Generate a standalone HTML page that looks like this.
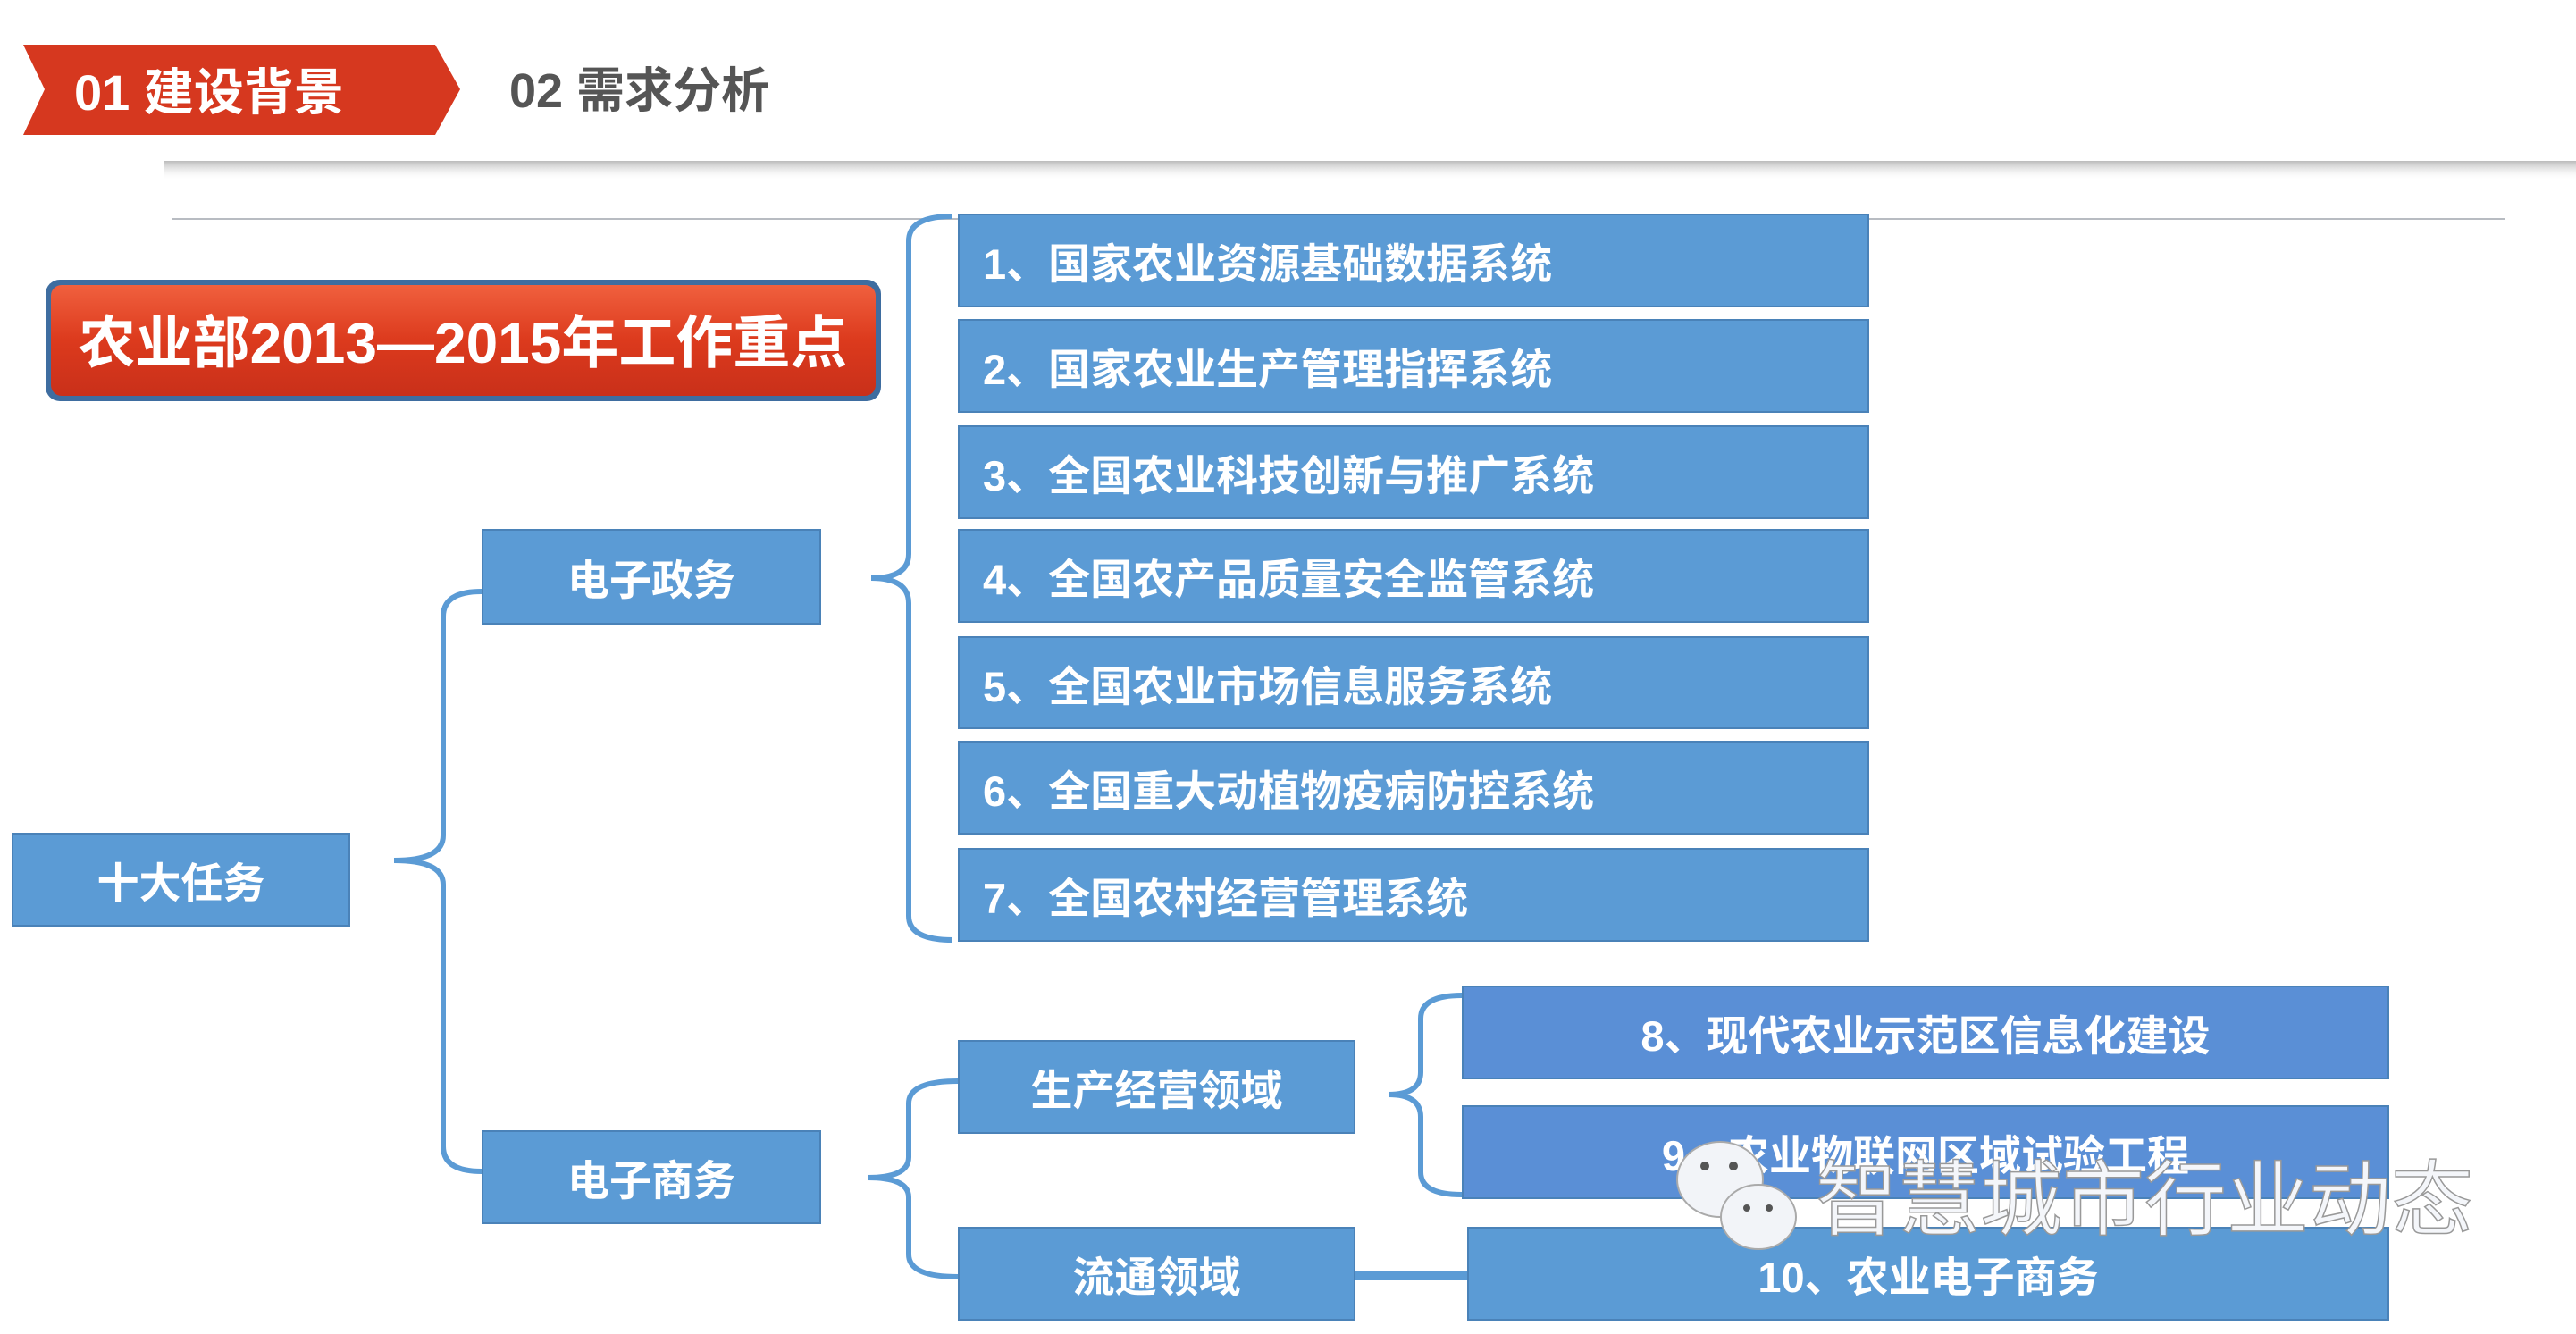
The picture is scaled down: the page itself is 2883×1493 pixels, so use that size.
<!DOCTYPE html>
<html><head><meta charset="utf-8"><style>
html,body{margin:0;padding:0;background:#fff;}
body{width:2883px;height:1493px;position:relative;overflow:hidden;font-family:"Liberation Sans","Noto Sans CJK SC",sans-serif;}
.b{position:absolute;background:#5b9bd5;border:2px solid #4a82b8;box-sizing:border-box;color:#fff;font-weight:bold;font-size:47px;display:flex;align-items:center;}
.c{justify-content:center;}
.l{padding-left:26px;}
</style></head><body>
<svg width="2883" height="1493" style="position:absolute;left:0;top:0">
<defs>
<linearGradient id="sh" x1="0" y1="0" x2="0" y2="1"><stop offset="0" stop-color="#bbb"/><stop offset="1" stop-color="#fff" stop-opacity="0"/></linearGradient>
<linearGradient id="rg" x1="0" y1="0" x2="0" y2="1"><stop offset="0" stop-color="#f0603e"/><stop offset="0.5" stop-color="#dc3a1d"/><stop offset="1" stop-color="#c9301a"/></linearGradient>
</defs>
<polygon points="26,50 487,50 515,100 487,151 26,151 50,100" fill="#d6381f"/>
<text x="83" y="123" font-size="56" font-weight="bold" fill="#fff" font-family="Liberation Sans,Noto Sans CJK SC,sans-serif">01  建设背景</text>
<text x="570" y="120" font-size="54" font-weight="bold" fill="#555" font-family="Liberation Sans,Noto Sans CJK SC,sans-serif">02 需求分析</text>
<rect x="184" y="180" width="2700" height="22" fill="url(#sh)"/>
<line x1="193" y1="245" x2="2804" y2="245" stroke="#b8bcc2" stroke-width="2"/>
<rect x="51" y="313" width="935" height="136" rx="16" fill="#3e6da0"/>
<rect x="57" y="319" width="923" height="124" rx="12" fill="url(#rg)"/>
<text x="518" y="406" text-anchor="middle" font-size="64" font-weight="bold" fill="#fff" font-family="Liberation Sans,Noto Sans CJK SC,sans-serif">农业部2013—2015年工作重点</text>
<g fill="none" stroke="#5b9bd5" stroke-width="6">
<path d="M1066,242 Q1017,242 1017,270 L1017,620 Q1017,647 975,647 Q1017,647 1017,675 L1017,1025 Q1017,1052 1066,1052"/>
<path d="M539,662 Q496,662 496,690 L496,935 Q496,963 441,963 Q496,963 496,990 L496,1283 Q496,1311 539,1311"/>
<path d="M1072,1210 Q1017,1210 1017,1235 L1017,1295 Q1017,1318 971,1318 Q1017,1318 1017,1340 L1017,1404 Q1017,1429 1072,1429"/>
<path d="M1636,1114 Q1590,1114 1590,1140 L1590,1200 Q1590,1225 1554,1225 Q1590,1225 1590,1250 L1590,1312 Q1590,1337 1636,1337"/>
</g>
<line x1="1517" y1="1428" x2="1642" y2="1428" stroke="#5b9bd5" stroke-width="10"/>
</svg>
<div class="b l" style="left:1072px;top:239px;width:1020px;height:105px">1、国家农业资源基础数据系统</div>
<div class="b l" style="left:1072px;top:357px;width:1020px;height:105px">2、国家农业生产管理指挥系统</div>
<div class="b l" style="left:1072px;top:476px;width:1020px;height:105px">3、全国农业科技创新与推广系统</div>
<div class="b l" style="left:1072px;top:592px;width:1020px;height:105px">4、全国农产品质量安全监管系统</div>
<div class="b l" style="left:1072px;top:712px;width:1020px;height:104px">5、全国农业市场信息服务系统</div>
<div class="b l" style="left:1072px;top:829px;width:1020px;height:105px">6、全国重大动植物疫病防控系统</div>
<div class="b l" style="left:1072px;top:949px;width:1020px;height:105px">7、全国农村经营管理系统</div>
<div class="b c" style="left:539px;top:592px;width:380px;height:107px">电子政务</div>
<div class="b c" style="left:13px;top:932px;width:379px;height:105px">十大任务</div>
<div class="b c" style="left:539px;top:1265px;width:380px;height:105px">电子商务</div>
<div class="b c" style="left:1072px;top:1164px;width:445px;height:105px">生产经营领域</div>
<div class="b c" style="left:1072px;top:1373px;width:445px;height:105px">流通领域</div>
<div class="b c" style="left:1636px;top:1103px;width:1038px;height:105px;background:#5a8fd6">8、现代农业示范区信息化建设</div>
<div class="b c" style="left:1636px;top:1237px;width:1038px;height:105px;background:#5a8fd6">9、农业物联网区域试验工程</div>
<div class="b c" style="left:1642px;top:1373px;width:1032px;height:105px">10、农业电子商务</div>
<svg width="2883" height="1493" style="position:absolute;left:0;top:0">
<g fill="#f2f4f8" stroke="#aaa" stroke-width="2">
<ellipse cx="1925" cy="1320" rx="48" ry="42"/>
<ellipse cx="1968" cy="1362" rx="42" ry="36"/>
</g>
<g fill="#555"><circle cx="1908" cy="1305" r="5"/><circle cx="1940" cy="1305" r="5"/><circle cx="1955" cy="1352" r="4"/><circle cx="1980" cy="1352" r="4"/></g>
<text x="2032" y="1375" font-size="92" fill="#f4f6fa" stroke="#999" stroke-width="1.5" font-family="Liberation Sans,Noto Sans CJK SC,sans-serif">智慧城市行业动态</text>
</svg>
</body></html>
